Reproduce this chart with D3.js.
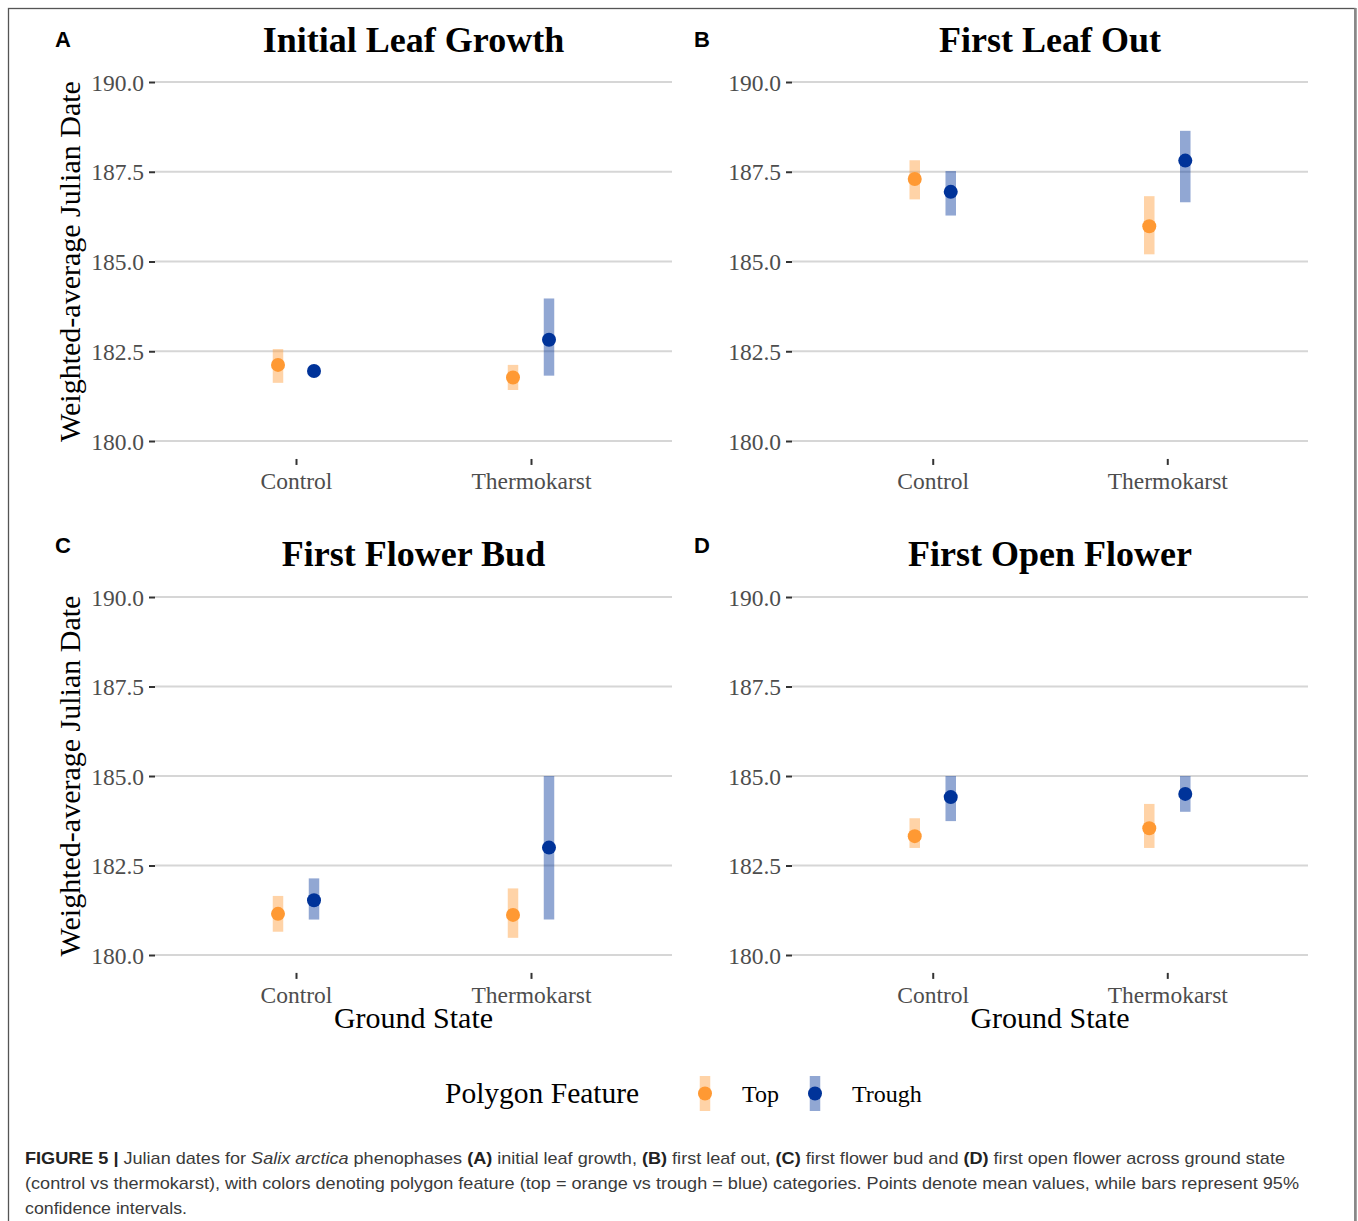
<!DOCTYPE html>
<html>
<head>
<meta charset="utf-8">
<script src="https://cdn.jsdelivr.net/npm/d3@7"></script>
<style>
  html, body { margin: 0; padding: 0; background: #fff; }
  svg { display: block; }
</style>
</head>
<body>
<svg id="chart" width="1358" height="1221"></svg>
<script>
// ---------------- DATA ----------------
const groundStates = ["Control", "Thermokarst"];
const features = ["Top", "Trough"];
const panelTitles = ["Initial Leaf Growth", "First Leaf Out", "First Flower Bud", "First Open Flower"];
const panelLetters = ["A", "B", "C", "D"];
const yTicks = [180, 182.5, 185, 187.5, 190];

// per panel: [Control, Thermokarst]
const topMean   = [[182.12, 181.77], [187.30, 185.98], [181.15, 181.12], [183.32, 183.54]];
const topLow    = [[181.62, 181.42], [186.73, 185.20], [180.65, 180.48], [182.99, 182.99]];
const topHigh   = [[182.56, 182.12], [187.82, 186.82], [181.65, 181.86], [183.82, 184.22]];
const troughMean = [[181.95, 182.82], [186.94, 187.81], [181.53, 183.00], [184.41, 184.50]];
const troughLow  = [[181.88, 181.82], [186.28, 186.65], [180.99, 180.99], [183.74, 184.00]];
const troughHigh = [[182.02, 183.97], [187.52, 188.64], [182.14, 185.00], [185.00, 185.00]];

const pointColors = { Top: "#FF9933", Trough: "#003399" };
const xTitle = "Ground State";
const yTitle = "Weighted-average Julian Date";
const legendTitle = "Polygon Feature";

// ---------------- LAYOUT ----------------
const svg = d3.select("#chart");
const serif = "'Liberation Serif', 'Times New Roman', serif";
const sans = "'Liberation Sans', Arial, sans-serif";

// frame
svg.append("rect").attr("x", 8.5).attr("y", 8.5).attr("width", 1346.5).attr("height", 1240)
  .attr("fill", "none").attr("stroke", "#555").attr("stroke-width", 1.3);
svg.append("line").attr("x1", 1355.5).attr("x2", 1355.5).attr("y1", 8).attr("y2", 1221)
  .attr("stroke", "#888").attr("stroke-width", 2.5);

const panels = [
  { left: 155, right: 672, y180: 441, y190: 82, offY: 0 },
  { left: 792, right: 1308, y180: 441, y190: 82, offY: 0 },
  { left: 155, right: 672, y180: 955, y190: 597, offY: 514 },
  { left: 792, right: 1308, y180: 955, y190: 597, offY: 514 }
];

panels.forEach((p, i) => {
  const g = svg.append("g");
  const y = d3.scaleLinear().domain([180, 190]).range([p.y180, p.y190]);
  const x = d3.scalePoint().domain(groundStates).range([p.left, p.right]).padding(0.6);
  const dodge = d3.scalePoint().domain(features).range([-18, 18]);
  const panelBottom = y(179.5);

  // gridlines
  g.selectAll("line.grid").data(yTicks).enter().append("line")
    .attr("x1", p.left).attr("x2", p.right)
    .attr("y1", d => y(d)).attr("y2", d => y(d))
    .attr("stroke", "#d6d6d6").attr("stroke-width", 2);

  // y axis
  const ya = g.append("g").attr("transform", `translate(${p.left},0)`)
    .call(d3.axisLeft(y).tickValues(yTicks).tickFormat(d3.format(".1f")).tickSize(6).tickPadding(5));
  ya.select(".domain").remove();
  ya.selectAll(".tick line").attr("stroke", "#333").attr("stroke-width", 2);
  ya.selectAll(".tick text").attr("fill", "#4d4d4d").style("font-family", serif).style("font-size", "23.5px")
    .attr("dy", "0.34em");

  // x axis
  const xa = g.append("g").attr("transform", `translate(0,${panelBottom})`)
    .call(d3.axisBottom(x).tickSize(6).tickPadding(5));
  xa.select(".domain").remove();
  xa.selectAll(".tick line").attr("stroke", "#333").attr("stroke-width", 2);
  xa.selectAll(".tick text").attr("fill", "#4d4d4d").style("font-family", serif).style("font-size", "23.5px")
    .attr("dy", 0).attr("y", 30);

  // data
  const rows = [];
  groundStates.forEach((gs, j) => {
    rows.push({ gs, f: "Top", m: topMean[i][j], lo: topLow[i][j], hi: topHigh[i][j] });
    rows.push({ gs, f: "Trough", m: troughMean[i][j], lo: troughLow[i][j], hi: troughHigh[i][j] });
  });
  g.selectAll("line.ci").data(rows).enter().append("line")
    .attr("x1", d => x(d.gs) + dodge(d.f)).attr("x2", d => x(d.gs) + dodge(d.f))
    .attr("y1", d => y(d.lo)).attr("y2", d => y(d.hi))
    .attr("stroke", d => pointColors[d.f]).attr("stroke-opacity", 0.43).attr("stroke-width", 10.5);
  g.selectAll("circle.pt").data(rows).enter().append("circle")
    .attr("cx", d => x(d.gs) + dodge(d.f)).attr("cy", d => y(d.m)).attr("r", 7)
    .attr("fill", d => pointColors[d.f]);

  // title
  g.append("text").attr("x", (p.left + p.right) / 2).attr("y", 52 + p.offY)
    .attr("text-anchor", "middle").style("font-family", serif).style("font-weight", "bold")
    .style("font-size", "36px").attr("fill", "#000").text(panelTitles[i]);

  // panel letter
  g.append("text").attr("x", p.left === 155 ? 55 : 694).attr("y", i < 2 ? 47 : 553)
    .style("font-family", sans).style("font-weight", "bold").style("font-size", "22px")
    .attr("fill", "#000").text(panelLetters[i]);

  // y title for left panels
  if (p.left === 155) {
    g.append("text").attr("transform", `translate(80,${(p.y180 + p.y190) / 2}) rotate(-90)`)
      .attr("text-anchor", "middle").style("font-family", serif).style("font-size", "30px")
      .attr("fill", "#000").text(yTitle);
  }
  // x title for bottom panels
  if (i >= 2) {
    g.append("text").attr("x", (p.left + p.right) / 2).attr("y", 1028)
      .attr("text-anchor", "middle").style("font-family", serif).style("font-size", "30px")
      .attr("fill", "#000").text(xTitle);
  }
});

// ---------------- LEGEND ----------------
const lg = svg.append("g");
lg.append("text").attr("x", 445).attr("y", 1103).style("font-family", serif).style("font-size", "29.5px")
  .attr("fill", "#000").text(legendTitle);
const legendX = d3.scalePoint().domain(features).range([705, 815]);
features.forEach(f => {
  const cx = legendX(f);
  lg.append("line").attr("x1", cx).attr("x2", cx).attr("y1", 1076).attr("y2", 1111)
    .attr("stroke", pointColors[f]).attr("stroke-opacity", 0.43).attr("stroke-width", 10.5);
  lg.append("circle").attr("cx", cx).attr("cy", 1093.5).attr("r", 7).attr("fill", pointColors[f]);
  lg.append("text").attr("x", cx + 37).attr("y", 1102).style("font-family", serif).style("font-size", "24px")
    .attr("fill", "#000").text(f);
});

// ---------------- CAPTION ----------------
const capLines = [
  [["FIGURE 5 | ", "b"], ["Julian dates for ", "n"], ["Salix arctica", "i"], [" phenophases ", "n"], ["(A)", "b"],
   [" initial leaf growth, ", "n"], ["(B)", "b"], [" first leaf out, ", "n"], ["(C)", "b"],
   [" first flower bud and ", "n"], ["(D)", "b"], [" first open flower across ground state", "n"]],
  [["(control vs thermokarst), with colors denoting polygon feature (top = orange vs trough = blue) categories. Points denote mean values, while bars represent 95%", "n"]],
  [["confidence intervals.", "n"]]
];
const capWidths = [1260, 1274, 162];
capLines.forEach((line, k) => {
  const t = svg.append("text").attr("x", 25).attr("y", 1164 + k * 25)
    .style("font-family", sans).style("font-size", "17px").attr("fill", "#3a3a3a")
    .attr("textLength", capWidths[k]).attr("lengthAdjust", "spacingAndGlyphs");
  line.forEach(([s, st]) => {
    const ts = t.append("tspan").text(s);
    if (st === "b") ts.style("font-weight", "bold").attr("fill", "#222");
    if (st === "i") ts.style("font-style", "italic");
  });
});
</script>
</body>
</html>
